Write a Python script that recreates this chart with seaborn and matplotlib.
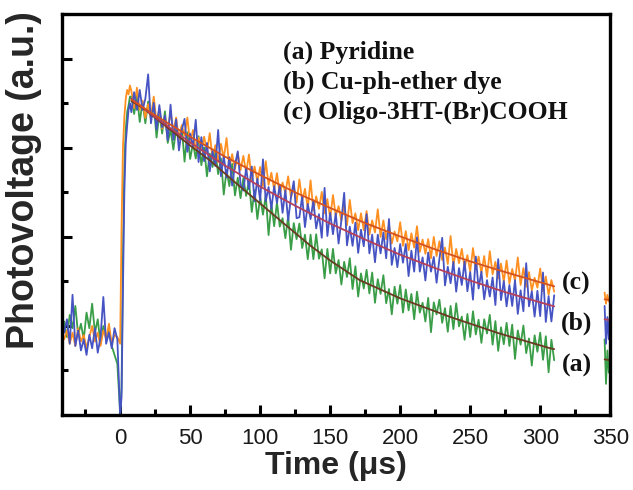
import numpy as np
import pandas as pd
import matplotlib
matplotlib.use("Agg")
import matplotlib.pyplot as plt
import seaborn as sns
from matplotlib.ticker import MultipleLocator, NullFormatter

# time axis (µs)
t_base = np.arange(-40, 0, 2)
t_rise = np.arange(0, 8, 1)
t_decay = np.arange(8, 311, 2)
t_tail = np.arange(346, 351, 1)

# (a) Pyridine - green trace
a_base = [2.10, 1.75, 2.25, 1.95, 2.45, 1.80, 2.05, 1.70, 2.30, 1.95,
          2.50, 1.85, 2.15, 1.60, 2.00, 1.75, 1.90, 1.55, 1.35, 1.15]
a_rise = [0.05, 0.60, 3.50, 5.60, 6.40, 6.80, 6.95, 7.15]
a_decay = [7.15, 6.76, 7.17, 6.58, 7.04, 6.55, 7.04, 6.64, 6.98, 6.23,
           6.77, 6.32, 6.82, 6.11, 6.41, 5.96, 6.42, 6.18, 6.48, 5.69,
           6.35, 5.75, 6.10, 5.76, 6.26, 5.61, 6.01, 5.36, 5.87, 5.57,
           5.92, 5.41, 5.76, 4.95, 5.50, 5.14, 5.64, 4.93, 5.33, 4.87,
           5.32, 4.92, 5.26, 4.56, 5.05, 4.40, 4.90, 4.50, 4.94, 4.04,
           4.74, 4.24, 4.78, 4.23, 4.42, 3.97, 4.47, 3.71, 4.31, 3.95,
           4.30, 3.75, 4.05, 3.50, 4.05, 3.50, 4.06, 3.51, 3.72, 3.07,
           3.73, 3.18, 3.73, 3.18, 3.48, 2.93, 3.44, 3.10, 3.52, 2.83,
           3.34, 2.66, 3.18, 2.84, 3.26, 2.73, 3.20, 2.52, 3.05, 2.72,
           3.14, 2.51, 2.83, 2.26, 2.88, 2.50, 2.92, 2.30, 2.82, 2.35,
           2.72, 2.15, 2.77, 2.30, 2.52, 2.10, 2.63, 1.86, 2.53, 2.26,
           2.59, 2.07, 2.40, 1.87, 2.45, 1.93, 2.51, 1.99, 2.21, 1.69,
           2.27, 1.75, 2.33, 1.81, 2.14, 1.62, 2.15, 1.83, 2.25, 1.58,
           2.11, 1.44, 1.97, 1.59, 2.07, 1.55, 2.03, 1.26, 1.90, 1.58,
           2.01, 1.39, 1.72, 1.11, 1.79, 1.42, 1.85, 1.24, 1.77, 0.96,
           1.69, 1.23]
a_tail = [1.70, 0.70, 1.45, 0.95, 1.30]

# (b) Cu-ph-ether dye - blue trace
b_base = [1.85, 2.15, 1.60, 2.70, 1.55, 1.90, 1.45, 1.70, 1.35, 1.80,
          1.50, 1.95, 1.40, 1.75, 2.65, 1.60, 1.85, 1.50, 1.95, 1.70]
b_rise = [0.00, 0.40, 2.80, 5.00, 6.10, 6.50, 6.85, 7.00]
b_decay = [6.80, 7.25, 6.85, 7.30, 6.85, 7.10, 7.65, 6.55, 7.01, 6.41,
           6.96, 6.46, 6.72, 6.17, 6.97, 6.18, 6.64, 5.94, 6.40, 6.65,
           5.91, 6.32, 6.02, 6.63, 5.68, 6.24, 5.70, 6.11, 5.47, 5.93,
           5.59, 6.40, 5.36, 5.82, 5.33, 5.79, 5.15, 5.61, 5.92, 5.18,
           5.04, 5.55, 5.07, 5.58, 4.80, 5.31, 4.82, 5.74, 4.80, 5.12,
           4.63, 5.14, 4.76, 5.17, 4.54, 5.05, 4.37, 4.89, 5.25, 4.42,
           4.44, 4.91, 4.22, 4.74, 4.40, 4.82, 4.19, 4.51, 3.98, 5.10,
           4.02, 4.54, 4.06, 4.53, 3.85, 4.37, 4.99, 3.81, 4.23, 3.80,
           4.32, 3.64, 4.16, 3.79, 4.51, 3.63, 4.05, 3.43, 4.05, 3.63,
           4.10, 3.52, 4.40, 3.37, 3.75, 3.32, 3.84, 3.42, 3.84, 3.12,
           3.69, 3.22, 3.99, 3.22, 3.54, 3.02, 3.65, 3.22, 3.55, 2.97,
           3.50, 3.98, 2.91, 3.33, 2.96, 3.44, 2.77, 3.30, 2.92, 3.45,
           2.78, 3.21, 2.59, 3.56, 2.84, 3.22, 2.60, 3.03, 2.66, 3.09,
           2.47, 3.50, 2.58, 3.01, 2.44, 2.92, 2.45, 3.03, 2.27, 2.80,
           2.33, 3.41, 2.44, 2.78, 2.21, 2.79, 2.22, 3.20, 2.09, 2.67,
           2.10, 2.69]
b_tail = [2.45, 1.60, 2.20, 1.70, 2.35]

# (c) Oligo-3HT-(Br)COOH - orange trace
c_base = [1.70, 1.90, 1.60, 1.85, 1.55, 1.95, 1.65, 1.80, 1.50, 1.75,
          2.00, 1.65, 1.85, 1.55, 1.90, 1.70, 2.05, 1.60, 1.80, 1.75]
c_rise = [1.60, 4.20, 6.00, 6.70, 7.10, 7.30, 7.20, 7.40]
c_decay = [7.28, 6.89, 7.35, 6.85, 7.06, 6.67, 6.98, 6.69, 7.15, 6.56,
           6.87, 6.43, 6.69, 6.40, 6.81, 6.37, 6.68, 6.19, 6.51, 6.27,
           6.68, 6.09, 6.40, 5.97, 6.23, 5.94, 6.25, 5.92, 6.33, 5.75,
           6.06, 5.68, 6.09, 5.76, 6.22, 5.54, 5.86, 5.52, 5.89, 5.50,
           5.82, 5.44, 5.85, 5.27, 5.58, 5.25, 5.57, 5.14, 5.70, 5.17,
           5.44, 5.06, 5.43, 4.95, 5.22, 4.99, 5.36, 4.88, 5.15, 4.77,
           5.29, 4.81, 5.08, 4.65, 5.27, 4.59, 4.91, 4.63, 5.01, 4.53,
           4.85, 4.42, 4.94, 4.47, 4.69, 4.36, 4.73, 4.26, 4.83, 4.31,
           4.53, 4.15, 4.53, 4.15, 4.58, 4.05, 4.37, 4.10, 4.62, 4.00,
           4.37, 3.95, 4.27, 3.85, 4.12, 3.90, 4.33, 3.80, 4.13, 3.70,
           4.08, 3.76, 4.24, 3.66, 3.94, 3.62, 3.95, 3.52, 4.00, 3.57,
           3.90, 3.48, 3.76, 3.39, 4.02, 3.35, 3.73, 3.41, 3.73, 3.31,
           3.59, 3.22, 3.75, 3.28, 3.56, 3.19, 3.57, 3.10, 3.68, 3.16,
           3.44, 3.07, 3.40, 2.99, 3.47, 2.95, 3.28, 3.01, 3.54, 2.92,
           3.30, 2.88, 3.21, 2.80, 3.08, 2.86, 3.29, 2.78, 3.11, 2.70,
           3.03, 2.77]
c_tail = [2.75, 2.50, 2.70, 2.55, 2.65]

# fitted decay curves
fit_t_bc = [8, 25, 50, 75, 100, 125, 150, 175, 200, 225, 250, 275, 300, 310]
fit_c = [7.08, 6.73, 6.25, 5.80, 5.39, 5.00, 4.65, 4.31, 4.01, 3.72, 3.45, 3.21, 2.98, 2.89]
fit_b = [7.10, 6.69, 6.12, 5.60, 5.13, 4.70, 4.30, 3.94, 3.60, 3.30, 3.02, 2.76, 2.53, 2.44]
fit_t_a = [8, 16, 30, 50, 64, 80, 100, 120, 136, 150, 171, 200, 236, 270, 307, 310]
fit_a = [7.05, 6.90, 6.55, 6.05, 5.72, 5.28, 4.75, 4.22, 3.80, 3.47, 3.03, 2.62, 2.20, 1.84, 1.50, 1.48]
fit_t_tail = [346, 350]
fit_a_tail = [1.25, 1.23]
fit_b_tail = [2.15, 2.13]
fit_c_tail = [2.60, 2.58]

legend_lines = ["(a) Pyridine", "(b) Cu-ph-ether dye", "(c) Oligo-3HT-(Br)COOH"]
end_labels = ["(c)", "(b)", "(a)"]
end_label_y = [2.95, 2.07, 1.12]

colors = {"a": "#3a9d47", "b": "#4653c2", "c": "#ff9022"}
fit_colors = {"a": "#6b3a22", "b": "#b5405a", "c": "#d4521f"}

sns.set_theme(style="ticks")
plt.rcParams["font.family"] = ["Liberation Sans", "DejaVu Sans"]

fig = plt.figure(figsize=(6.33, 4.90), dpi=100)
ax = fig.add_axes([0.098, 0.153, 0.866, 0.818])

t_main = np.concatenate([t_base, t_rise, t_decay])
traces = {
    "a": (a_base + a_rise + a_decay, a_tail),
    "b": (b_base + b_rise + b_decay, b_tail),
    "c": (c_base + c_rise + c_decay, c_tail),
}

for key in ["a", "c", "b"]:
    main, tail = traces[key]
    df = pd.DataFrame({"t": t_main, "v": main})
    sns.lineplot(data=df, x="t", y="v", ax=ax, color=colors[key], lw=1.3,
                 estimator=None, sort=False)
    df_tail = pd.DataFrame({"t": t_tail, "v": tail})
    sns.lineplot(data=df_tail, x="t", y="v", ax=ax, color=colors[key], lw=1.3,
                 estimator=None, sort=False)

for key, ft, fv, tv in [("a", fit_t_a, fit_a, fit_a_tail),
                        ("b", fit_t_bc, fit_b, fit_b_tail),
                        ("c", fit_t_bc, fit_c, fit_c_tail)]:
    sns.lineplot(x=ft, y=fv, ax=ax, color=fit_colors[key], lw=1.3,
                 estimator=None, sort=False)
    sns.lineplot(x=fit_t_tail, y=tv, ax=ax, color=fit_colors[key], lw=1.3,
                 estimator=None, sort=False)

ax.set_xlim(-41.5, 350)
ax.set_ylim(0, 9)
ax.xaxis.set_major_locator(MultipleLocator(50))
ax.xaxis.set_minor_locator(MultipleLocator(25))
ax.yaxis.set_major_locator(MultipleLocator(2))
ax.yaxis.set_minor_locator(MultipleLocator(1))
ax.yaxis.set_major_formatter(NullFormatter())
ax.tick_params(which="both", direction="in", width=2.2, color="black",
               top=False, right=False)
ax.tick_params(which="major", length=7)
ax.tick_params(which="minor", length=4)
ax.tick_params(axis="x", labelsize=16, pad=9, labelcolor="#1a1a1a")
for s in ax.spines.values():
    s.set_linewidth(2.4)
    s.set_color("black")

ax.set_xlabel("Time (μs)", fontsize=23, fontweight="bold", labelpad=2)
ax.set_ylabel("Photovoltage (a.u.)", fontsize=27, fontweight="bold")
ax.yaxis.set_label_coords(-0.036, 0.585)

for i, txt in enumerate(legend_lines):
    ax.text(0.403, 0.905 - i * 0.0745, txt, transform=ax.transAxes,
            fontsize=18.5, fontweight="bold", family=["Liberation Serif", "DejaVu Serif"],
            va="center", ha="left", color="#111111")

for txt, yv in zip(end_labels, end_label_y):
    ax.text(326, yv, txt, fontsize=18.5, fontweight="bold",
            family=["Liberation Serif", "DejaVu Serif"], va="center", ha="center",
            color="#111111")

fig.savefig("out.png", dpi=100, facecolor="white")
